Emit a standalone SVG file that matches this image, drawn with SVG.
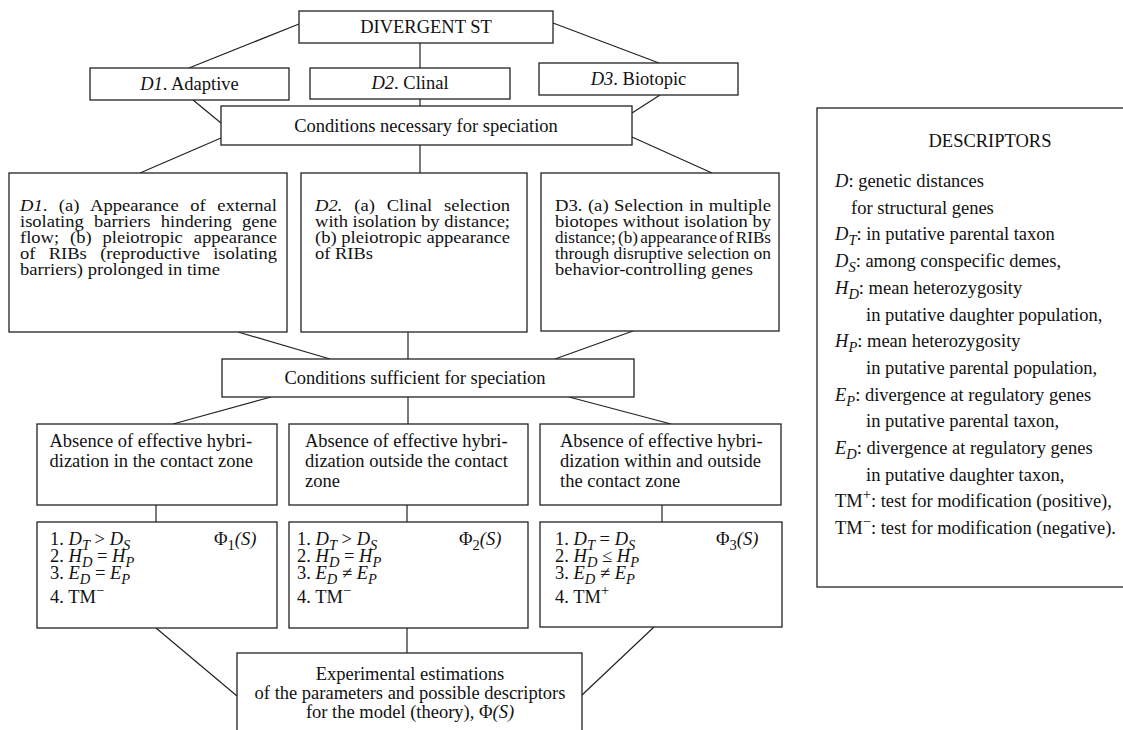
<svg xmlns="http://www.w3.org/2000/svg" width="1123" height="730" viewBox="0 0 1123 730">
<style>
.box{fill:#fff;stroke:#222;stroke-width:1.3}
.c line{stroke:#222;stroke-width:1.2}
text{font-family:"Liberation Serif","Times New Roman",serif;font-size:18.5px;fill:#111}
.p{font-size:17px}
.m{text-anchor:middle}
.i{font-style:italic}
.s{font-size:14.5px}
</style>
<rect width="1123" height="730" fill="#fff"/>
<g class="c" id="connectors">
<line x1="299" y1="24" x2="189" y2="68"/>
<line x1="553" y1="23" x2="659" y2="63"/>
<line x1="420" y1="43" x2="420" y2="68"/>
<line x1="193" y1="100" x2="221" y2="123"/>
<line x1="420" y1="99" x2="420" y2="106"/>
<line x1="660" y1="95" x2="632" y2="113"/>
<line x1="221" y1="138" x2="140" y2="173"/>
<line x1="420" y1="145" x2="420" y2="173"/>
<line x1="632" y1="137" x2="712" y2="173"/>
<line x1="238" y1="332" x2="330" y2="359"/>
<line x1="408" y1="332" x2="408" y2="359"/>
<line x1="633" y1="331" x2="555" y2="359"/>
<line x1="271" y1="397" x2="173" y2="424"/>
<line x1="408" y1="397" x2="408" y2="424"/>
<line x1="569" y1="397" x2="671" y2="424"/>
<line x1="156" y1="505" x2="156" y2="522"/>
<line x1="407" y1="505" x2="407" y2="522"/>
<line x1="662" y1="505" x2="662" y2="522"/>
<line x1="156" y1="628" x2="237" y2="696"/>
<line x1="407" y1="628" x2="407" y2="653"/>
<line x1="654" y1="627" x2="582" y2="695"/>
</g>
<g id="divergent">
<rect class="box" x="299" y="11" width="254" height="32"/>
<text class="m" x="426" y="33">DIVERGENT ST</text>
</g>
<g id="d1">
<rect class="box" x="90" y="68" width="199" height="32"/>
<text class="m" x="189.5" y="90"><tspan class="i">D1</tspan>. Adaptive</text>
</g>
<g id="d2">
<rect class="box" x="310" y="68" width="200" height="31"/>
<text class="m" x="410" y="89"><tspan class="i">D2</tspan>. Clinal</text>
</g>
<g id="d3">
<rect class="box" x="539" y="63" width="199" height="32"/>
<text class="m" x="638.5" y="85"><tspan class="i">D3</tspan>. Biotopic</text>
</g>
<g id="necessary">
<rect class="box" x="221" y="106" width="411" height="39"/>
<text class="m" x="426" y="132">Conditions necessary for speciation</text>
</g>
<g id="nd1">
<rect class="box" x="9" y="173" width="278" height="159"/>
<text class="p" x="20" y="211" word-spacing="6.3" textLength="257" lengthAdjust="spacingAndGlyphs"><tspan class="i">D1</tspan>. (a) Appearance of external</text>
<text class="p" x="20" y="227" word-spacing="5.2" textLength="257" lengthAdjust="spacingAndGlyphs">isolating barriers hindering gene</text>
<text class="p" x="20" y="243" word-spacing="5.8" textLength="257" lengthAdjust="spacingAndGlyphs">flow; (b) pleiotropic appearance</text>
<text class="p" x="20" y="259" word-spacing="8" textLength="257" lengthAdjust="spacingAndGlyphs">of RIBs (reproductive isolating</text>
<text class="p" x="20" y="275" textLength="200" lengthAdjust="spacingAndGlyphs">barriers) prolonged in time</text>
</g>
<g id="nd2">
<rect class="box" x="301" y="173" width="226" height="159"/>
<text class="p" x="315" y="211" word-spacing="6.6" textLength="195" lengthAdjust="spacingAndGlyphs"><tspan class="i">D2.</tspan> (a) Clinal selection</text>
<text class="p" x="315" y="227" textLength="195" lengthAdjust="spacingAndGlyphs">with isolation by distance;</text>
<text class="p" x="315" y="243" textLength="195" lengthAdjust="spacingAndGlyphs">(b) pleiotropic appearance</text>
<text class="p" x="315" y="259" textLength="58" lengthAdjust="spacingAndGlyphs">of RIBs</text>
</g>
<g id="nd3">
<rect class="box" x="541" y="173" width="238" height="158"/>
<text class="p" x="555" y="211" word-spacing="0.7" textLength="216" lengthAdjust="spacingAndGlyphs">D3. (a) Selection in multiple</text>
<text class="p" x="555" y="227" textLength="216" lengthAdjust="spacingAndGlyphs">biotopes without isolation by</text>
<text class="p" x="555" y="243" word-spacing="-2" textLength="216" lengthAdjust="spacingAndGlyphs">distance; (b) appearance of RIBs</text>
<text class="p" x="555" y="259" textLength="216" lengthAdjust="spacingAndGlyphs">through disruptive selection on</text>
<text class="p" x="555" y="275" textLength="198" lengthAdjust="spacingAndGlyphs">behavior-controlling genes</text>
</g>
<g id="sufficient">
<rect class="box" x="222" y="359" width="412" height="38"/>
<text class="m" x="415" y="384">Conditions sufficient for speciation</text>
</g>
<g id="a1">
<rect class="box" x="37" y="424" width="240" height="81"/>
<text x="49.5" y="447">Absence of effective hybri-</text>
<text x="49.5" y="467">dization in the contact zone</text>
</g>
<g id="a2">
<rect class="box" x="289" y="424" width="239" height="81"/>
<text x="305" y="447">Absence of effective hybri-</text>
<text x="305" y="467">dization outside the contact</text>
<text x="305" y="487">zone</text>
</g>
<g id="a3">
<rect class="box" x="540" y="424" width="241" height="81"/>
<text x="560" y="447">Absence of effective hybri-</text>
<text x="560" y="467">dization within and outside</text>
<text x="560" y="487">the contact zone</text>
</g>
<g id="f1">
<rect class="box" x="37" y="522" width="240" height="106"/>
<text x="50" y="545">1. <tspan class="i">D</tspan><tspan class="i s" dy="5">T</tspan><tspan dy="-5"> &gt; </tspan><tspan class="i">D</tspan><tspan class="i s" dy="5">S</tspan></text>
<text x="50" y="562">2. <tspan class="i">H</tspan><tspan class="i s" dy="5">D</tspan><tspan dy="-5"> = </tspan><tspan class="i">H</tspan><tspan class="i s" dy="5">P</tspan></text>
<text x="50" y="579">3. <tspan class="i">E</tspan><tspan class="i s" dy="5">D</tspan><tspan dy="-5"> = </tspan><tspan class="i">E</tspan><tspan class="i s" dy="5">P</tspan></text>
<text x="50" y="603">4. TM<tspan class="s" dy="-8">−</tspan></text>
<text x="214" y="545">Φ<tspan class="s" dy="5">1</tspan><tspan class="i" dy="-5">(S)</tspan></text>
</g>
<g id="f2">
<rect class="box" x="289" y="522" width="239" height="106"/>
<text x="297" y="545">1. <tspan class="i">D</tspan><tspan class="i s" dy="5">T</tspan><tspan dy="-5"> &gt; </tspan><tspan class="i">D</tspan><tspan class="i s" dy="5">S</tspan></text>
<text x="297" y="562">2. <tspan class="i">H</tspan><tspan class="i s" dy="5">D</tspan><tspan dy="-5"> = </tspan><tspan class="i">H</tspan><tspan class="i s" dy="5">P</tspan></text>
<text x="297" y="579">3. <tspan class="i">E</tspan><tspan class="i s" dy="5">D</tspan><tspan dy="-5"> ≠ </tspan><tspan class="i">E</tspan><tspan class="i s" dy="5">P</tspan></text>
<text x="297" y="603">4. TM<tspan class="s" dy="-8">−</tspan></text>
<text x="459" y="545">Φ<tspan class="s" dy="5">2</tspan><tspan class="i" dy="-5">(S)</tspan></text>
</g>
<g id="f3">
<rect class="box" x="540" y="522" width="242" height="105"/>
<text x="555" y="545">1. <tspan class="i">D</tspan><tspan class="i s" dy="5">T</tspan><tspan dy="-5"> = </tspan><tspan class="i">D</tspan><tspan class="i s" dy="5">S</tspan></text>
<text x="555" y="562">2. <tspan class="i">H</tspan><tspan class="i s" dy="5">D</tspan><tspan dy="-5"> ≤ </tspan><tspan class="i">H</tspan><tspan class="i s" dy="5">P</tspan></text>
<text x="555" y="579">3. <tspan class="i">E</tspan><tspan class="i s" dy="5">D</tspan><tspan dy="-5"> ≠ </tspan><tspan class="i">E</tspan><tspan class="i s" dy="5">P</tspan></text>
<text x="555" y="603">4. TM<tspan class="s" dy="-8">+</tspan></text>
<text x="716" y="545">Φ<tspan class="s" dy="5">3</tspan><tspan class="i" dy="-5">(S)</tspan></text>
</g>
<g id="experimental">
<rect class="box" x="237" y="653" width="345" height="90"/>
<text class="m" x="410" y="680">Experimental estimations</text>
<text class="m" x="410" y="699">of the parameters and possible descriptors</text>
<text class="m" x="410" y="718">for the model (theory), Φ<tspan class="i">(S)</tspan></text>
</g>
<g id="descriptors">
<rect class="box" x="817" y="108" width="320" height="479"/>
<text class="m" x="990" y="147">DESCRIPTORS</text>
<text x="835" y="187"><tspan class="i">D</tspan>: genetic distances</text>
<text x="851" y="213.7">for structural genes</text>
<text x="835" y="240.4"><tspan class="i">D</tspan><tspan class="i s" dy="5">T</tspan><tspan dy="-5">: in putative parental taxon</tspan></text>
<text x="835" y="267.1"><tspan class="i">D</tspan><tspan class="i s" dy="5">S</tspan><tspan dy="-5">: among conspecific demes,</tspan></text>
<text x="835" y="293.8"><tspan class="i">H</tspan><tspan class="i s" dy="5">D</tspan><tspan dy="-5">: mean heterozygosity</tspan></text>
<text x="866" y="320.5">in putative daughter population,</text>
<text x="835" y="347.2"><tspan class="i">H</tspan><tspan class="i s" dy="5">P</tspan><tspan dy="-5">: mean heterozygosity</tspan></text>
<text x="866" y="373.9">in putative parental population,</text>
<text x="835" y="400.6"><tspan class="i">E</tspan><tspan class="i s" dy="5">P</tspan><tspan dy="-5">: divergence at regulatory genes</tspan></text>
<text x="866" y="427.3">in putative parental taxon,</text>
<text x="835" y="454"><tspan class="i">E</tspan><tspan class="i s" dy="5">D</tspan><tspan dy="-5">: divergence at regulatory genes</tspan></text>
<text x="866" y="480.7">in putative daughter taxon,</text>
<text x="835" y="507.4">TM<tspan class="s" dy="-8">+</tspan><tspan dy="8">: test for modification (positive),</tspan></text>
<text x="835" y="534.1">TM<tspan class="s" dy="-8">−</tspan><tspan dy="8">: test for modification (negative).</tspan></text>
</g>
</svg>
